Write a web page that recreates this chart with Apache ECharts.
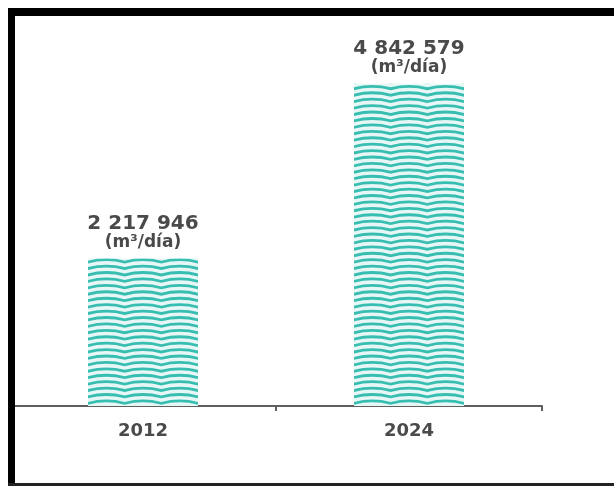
<!DOCTYPE html>
<html>
<head>
<meta charset="utf-8">
<script src="https://cdn.jsdelivr.net/npm/echarts@6/dist/echarts.min.js"></script>
<style>
html,body{margin:0;padding:0;background:#fff;}
#chart{width:614px;height:486px;}
</style>
</head>
<body>
<div id="chart"></div>
<script>
const categories = ['2012', '2024'];
const values = [2217946, 4842579];
const unitLabel = '(m³/día)';

function fmt(v) {
  return String(v).replace(/\B(?=(\d{3})+(?!\d))/g, ' ');
}

// three gentle arches per row, drawn as filled bands; a tiny speck extends the box to leave the row gap
let wavePath = 'path://';
for (let i = 0; i < 3; i++) {
  const x0 = i * 100;
  wavePath += 'M' + x0 + ' 7 Q' + (x0 + 50) + ' -5 ' + (x0 + 100) + ' 7 L' + (x0 + 100) + ' 14 Q' + (x0 + 50) + ' 2 ' + x0 + ' 14 Z ';
}
wavePath += 'M150 17 L150.01 17 L150 17.01 Z';

const chart = echarts.init(document.getElementById('chart'));
chart.setOption({
  backgroundColor: '#ffffff',
  animation: false,
  grid: { left: 10, right: 72, top: 40, bottom: 80, containLabel: false },
  xAxis: {
    type: 'category',
    data: categories,
    axisLine: { lineStyle: { color: '#5f5f5f', width: 2 } },
    axisTick: { show: true, length: 5, lineStyle: { color: '#5f5f5f', width: 2 } },
    axisLabel: { color: '#4a4a4a', fontSize: 18, fontWeight: 'bold', fontFamily: 'DejaVu Sans', margin: 16 }
  },
  yAxis: {
    type: 'value', min: 0, max: 5500000,
    show: false, splitLine: { show: false }
  },
  series: [
    {
      type: 'bar',
      data: values,
      barWidth: 110,
      itemStyle: { color: '#e6f7f6' },
      z: 1,
      label: {
        show: true,
        position: 'top',
        distance: 7,
        formatter: function (p) {
          return '{a|' + fmt(p.value) + '}\n{b|' + unitLabel + '}';
        },
        rich: {
          a: { fontSize: 20, fontWeight: 'bold', color: '#4a4a4a', fontFamily: 'DejaVu Sans', lineHeight: 19, align: 'center' },
          b: { fontSize: 17, fontWeight: 'bold', color: '#4a4a4a', fontFamily: 'DejaVu Sans', lineHeight: 18, align: 'center' }
        }
      }
    },
    {
      type: 'pictorialBar',
      data: values,
      symbol: wavePath,
      symbolSize: [110, 6.5],
      symbolRepeat: true,
      symbolMargin: 0,
      symbolClip: true,
      symbolPosition: 'start',
      itemStyle: { color: '#38bdb1' },
      z: 3
    }
  ],
  graphic: [
    { type: 'rect', shape: { x: 8, y: 8, width: 606, height: 8 }, style: { fill: '#000' }, z: 100 },
    { type: 'rect', shape: { x: 8, y: 8, width: 7, height: 478 }, style: { fill: '#000' }, z: 100 },
    { type: 'rect', shape: { x: 8, y: 483, width: 606, height: 3 }, style: { fill: '#222' }, z: 100 }
  ]
});
</script>
</body>
</html>
